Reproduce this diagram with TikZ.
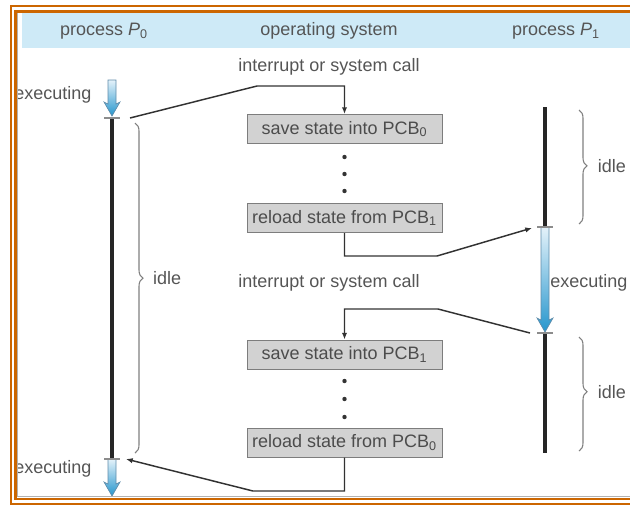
\documentclass[tikz,border=0pt]{standalone}
\usepackage{fontspec}
\setmainfont{Liberation Sans}
\usetikzlibrary{arrows.meta,decorations.pathreplacing,positioning}

\definecolor{frameorange}{RGB}{204,102,0}
\definecolor{headblue}{RGB}{206,234,247}
\definecolor{labelgray}{RGB}{85,85,85}
\definecolor{boxfill}{RGB}{210,210,210}
\definecolor{boxline}{RGB}{125,125,125}
\definecolor{linegray}{RGB}{50,50,50}
\definecolor{exectop}{RGB}{228,242,250}
\definecolor{execbot}{RGB}{38,150,205}
\definecolor{execline}{RGB}{95,140,170}

\tikzset{every picture/.style={line width=0.75pt}}
\tikzset{
  txt/.style={inner sep=0.75pt, text=labelgray, font=\fontsize{13.5}{16}\selectfont},
  osbox/.style={draw=boxline, fill=boxfill, minimum width=146.25pt, minimum height=21.75pt, inner sep=0pt, text=black!70, font=\fontsize{13.5}{16}\selectfont},
  timeline/.style={line width=2.4pt, color=black!85},
  switch/.style={line width=1.1pt, color=linegray, -{Latex[length=5pt,width=4pt]}},
  idlebrace/.style={draw=black!50, line width=0.8pt, decorate, decoration={brace, amplitude=6pt, aspect=#1}},
  idlebrace/.default=0.5,
  tick/.style={draw=black!45, line width=0.8pt},
}

% shaded arrow of a running process: x, top y, tip y
\newcommand{\execarrow}[3]{%
  \shade[top color=exectop, bottom color=execbot, draw=execline, line width=0.5pt]
    (#1-4,#2) -- (#1+4,#2) -- (#1+4,#3-12) -- (#1+8,#3-14) -- (#1,#3) -- (#1-8,#3-14) -- (#1-4,#3-12) -- cycle;}

\begin{document}
\begin{tikzpicture}[x=0.75pt,y=0.75pt,yscale=-1,xscale=1]
    \useasboundingbox (0,0) rectangle (630,508);
    
    %Header band
    \fill[headblue] (22,13) rectangle (640,48);
    
    % Text Node
    \node[txt] (headp0) at (104,31) {process \textit{P}\textsubscript{0}};
    % Text Node
    \node[txt] (heados) at (329,31) {operating system};
    % Text Node
    \node[txt] (headp1) at (556,31) {process \textit{P}\textsubscript{1}};
    
    %Time points on the two processes
    \coordinate (p0top) at (112,80);
    \coordinate (p0run) at (112,118);
    \coordinate (p0stop) at (112,459);
    \coordinate (p0end) at (112,496);
    \coordinate (p1top) at (545,107);
    \coordinate (p1run) at (545,227);
    \coordinate (p1stop) at (545,333);
    \coordinate (p1end) at (545,453);
    
    %Straight Lines (timelines)
    \draw[timeline] (p0run) -- (p0stop);
    \draw[timeline] (p1top) -- (p1run);
    \draw[timeline] (p1stop) -- (p1end);
    
    %Executing arrows
    \execarrow{112}{80}{116}
    \execarrow{112}{459}{496}
    \execarrow{545}{227}{332}
    
    %Ticks
    \foreach \t in {p0run,p0stop,p1run,p1stop}
      \draw[tick] ([xshift=-6pt]\t) -- ([xshift=6pt]\t);
    
    %Boxes of the operating system
    \node[osbox] (save0) at (344.5,129) {save state into PCB\textsubscript{0}};
    \node[osbox] (load1) at (344.5,218) {reload state from PCB\textsubscript{1}};
    \node[osbox] (save1) at (344.5,354.5) {save state into PCB\textsubscript{1}};
    \node[osbox] (load0) at (344.5,442.5) {reload state from PCB\textsubscript{0}};
    
    %Dots
    \foreach \y in {157,174,191,381,399,417}
      \fill[black!80] (344.5,\y) circle (2.2);
    
    % Text Node
    \node[txt] (irqtxt0) at (329,67) {interrupt or system call};
    % Text Node
    \node[txt] (irqtxt1) at (329,283) {interrupt or system call};
    
    %Switch lines
    \coordinate (irq0) at (130,118);
    \coordinate (go1) at (532,228);
    \coordinate (irq1) at (530,333);
    \coordinate (go0) at (126,459);
    \draw[switch] (irq0) -- (257,86) -| (save0.north);
    \draw[switch] (load1.south) |- (437,256) -- (go1);
    \draw[switch] (irq1) -- (438,309) -| (save1.north);
    \draw[switch] (load0.south) |- (253,491) -- (go0);
    
    %Braces
    \draw[idlebrace=0.47] (135,123) -- (135,453) node[pos=0.47, txt, anchor=west, xshift=12.5pt] (idle0) {idle};
    \draw[idlebrace=0.49] (579,110) -- (579,224) node[pos=0.49, txt, anchor=west, xshift=13pt] (idle1) {idle};
    \draw[idlebrace=0.48] (579,337) -- (579,451) node[pos=0.48, txt, anchor=west, xshift=13pt] (idle2) {idle};
    
    % Text Node
    \node[txt, anchor=east] (exec0) at (93,95) {executing};
    % Text Node
    \node[txt, anchor=east] (exec0b) at (93,469) {executing};
    % Text Node
    \node[txt, anchor=east] (exec1) at (629,283) {executing};
    
    %Frame
    \draw[black!30, line width=0.6pt] (17.5,13) -- (17.5,496) -- (640,496);
    \draw[frameorange, line width=2pt] (11,6) rectangle (645,504);
    \draw[frameorange, line width=2pt] (15.5,11.5) rectangle (645,499);
    
\end{tikzpicture}
\end{document}
